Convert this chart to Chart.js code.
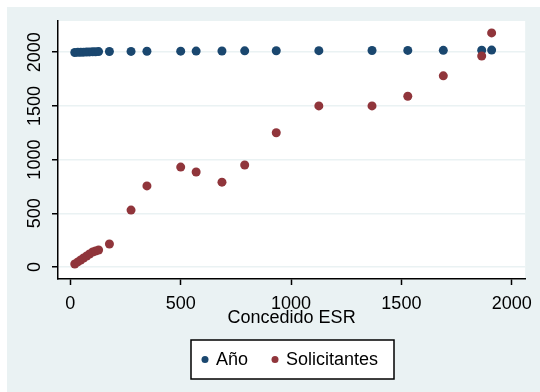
<!DOCTYPE html>
<html>
<head>
<meta charset="utf-8">
<script src="https://cdn.jsdelivr.net/npm/chart.js@4/dist/chart.umd.min.js"></script>
<style>
  html, body { margin: 0; padding: 0; background: #ffffff; }
  #c { display: block; }
</style>
</head>
<body>
<canvas id="c" width="540" height="392"></canvas>
<script>
// Concedido ESR (x) against year and number of applicants
const concedido = [20, 34, 47, 60, 74, 87, 101, 114, 128, 177, 275, 347, 500, 570, 687, 790, 933, 1126, 1367, 1529, 1690, 1864, 1909];
const anio = [1998, 1999, 2000, 2001, 2002, 2003, 2004, 2005, 2006, 2007, 2008, 2009, 2010, 2011, 2012, 2013, 2014, 2015, 2016, 2017, 2018, 2019, 2020];
const solicitantes = [28, 47, 65, 84, 102, 121, 140, 149, 158, 214, 530, 755, 930, 885, 790, 950, 1250, 1500, 1500, 1590, 1780, 1965, 2180];
const xTicks = [0, 500, 1000, 1500, 2000];
const yTicks = [0, 500, 1000, 1500, 2000];
const seriesNames = ['Año', 'Solicitantes'];
const xTitle = 'Concedido ESR';

const NAVY = '#1a476f';
const MAROON = '#90353b';
const BG = '#eaf2f3';
const FONT = '"Liberation Sans", Arial, sans-serif';

const backgroundPlugin = {
  id: 'stataBackground',
  beforeDraw(chart) {
    const { ctx, chartArea: a, width, height } = chart;
    ctx.save();
    ctx.fillStyle = '#ffffff';
    ctx.fillRect(0, 0, width, height);
    ctx.fillStyle = BG;
    ctx.fillRect(7, 7, width - 7, height - 7);
    ctx.fillStyle = '#ffffff';
    ctx.fillRect(a.left, a.top, a.right - a.left, a.bottom - a.top);
    ctx.restore();
  }
};

const legendBoxPlugin = {
  id: 'legendBox',
  afterDraw(chart) {
    const { ctx } = chart;
    const bx = 191, by = 340, bw = 203, bh = 39;
    const cy = by + bh / 2;
    ctx.save();
    ctx.fillStyle = '#ffffff';
    ctx.fillRect(bx, by, bw, bh);
    ctx.strokeStyle = '#000000';
    ctx.lineWidth = 1.5;
    ctx.strokeRect(bx, by, bw, bh);
    const items = [
      { mx: 205, tx: 216, color: NAVY, text: seriesNames[0] },
      { mx: 275, tx: 286, color: MAROON, text: seriesNames[1] }
    ];
    ctx.font = '18px ' + FONT;
    ctx.textBaseline = 'middle';
    ctx.textAlign = 'left';
    items.forEach(it => {
      ctx.fillStyle = it.color;
      ctx.beginPath();
      ctx.arc(it.mx, cy, 3.5, 0, Math.PI * 2);
      ctx.fill();
      ctx.fillStyle = '#000000';
      ctx.fillText(it.text, it.tx, cy + 1);
    });
    ctx.restore();
  }
};

const toPoints = (ys) => concedido.map((x, i) => ({ x: x, y: ys[i] }));

new Chart(document.getElementById('c'), {
  type: 'scatter',
  data: {
    datasets: [
      {
        label: seriesNames[0],
        data: toPoints(anio),
        backgroundColor: NAVY,
        borderColor: NAVY,
        pointRadius: 4.5,
        pointBorderWidth: 0,
        order: 2
      },
      {
        label: seriesNames[1],
        data: toPoints(solicitantes),
        backgroundColor: MAROON,
        borderColor: MAROON,
        pointRadius: 4.5,
        pointBorderWidth: 0,
        order: 1
      }
    ]
  },
  options: {
    responsive: false,
    animation: false,
    devicePixelRatio: 1,
    layout: { padding: { left: 0, top: 21, right: 9, bottom: 63 } },
    plugins: {
      legend: { display: false },
      tooltip: { enabled: false }
    },
    scales: {
      x: {
        type: 'linear',
        min: -56,
        max: 2061,
        afterBuildTicks: (s) => { s.ticks = xTicks.map(v => ({ value: v })); },
        afterFit: (s) => { s.height = 50; },
        ticks: {
          autoSkip: false,
          maxRotation: 0,
          padding: 8,
          color: '#000000',
          font: { family: FONT, size: 18 },
          callback: (v) => String(v)
        },
        grid: {
          drawOnChartArea: false,
          tickLength: 6,
          tickColor: '#000000',
          tickWidth: 1.5
        },
        border: { color: '#000000', width: 1.5 },
        title: {
          display: true,
          text: xTitle,
          color: '#000000',
          font: { family: FONT, size: 18 },
          padding: { top: 0, bottom: 0 }
        }
      },
      y: {
        type: 'linear',
        min: -112,
        max: 2291,
        afterBuildTicks: (s) => { s.ticks = yTicks.map(v => ({ value: v })); },
        afterFit: (s) => { s.width = 58; },
        ticks: {
          minRotation: 90,
          maxRotation: 90,
          crossAlign: 'center',
          padding: -3,
          color: '#000000',
          font: { family: FONT, size: 18 },
          callback: (v) => String(v)
        },
        grid: {
          color: BG,
          lineWidth: 1.5,
          tickLength: 6,
          tickColor: '#000000',
          tickWidth: 1.5
        },
        border: { color: '#000000', width: 1.5 }
      }
    }
  },
  plugins: [backgroundPlugin, legendBoxPlugin]
});
</script>
</body>
</html>
